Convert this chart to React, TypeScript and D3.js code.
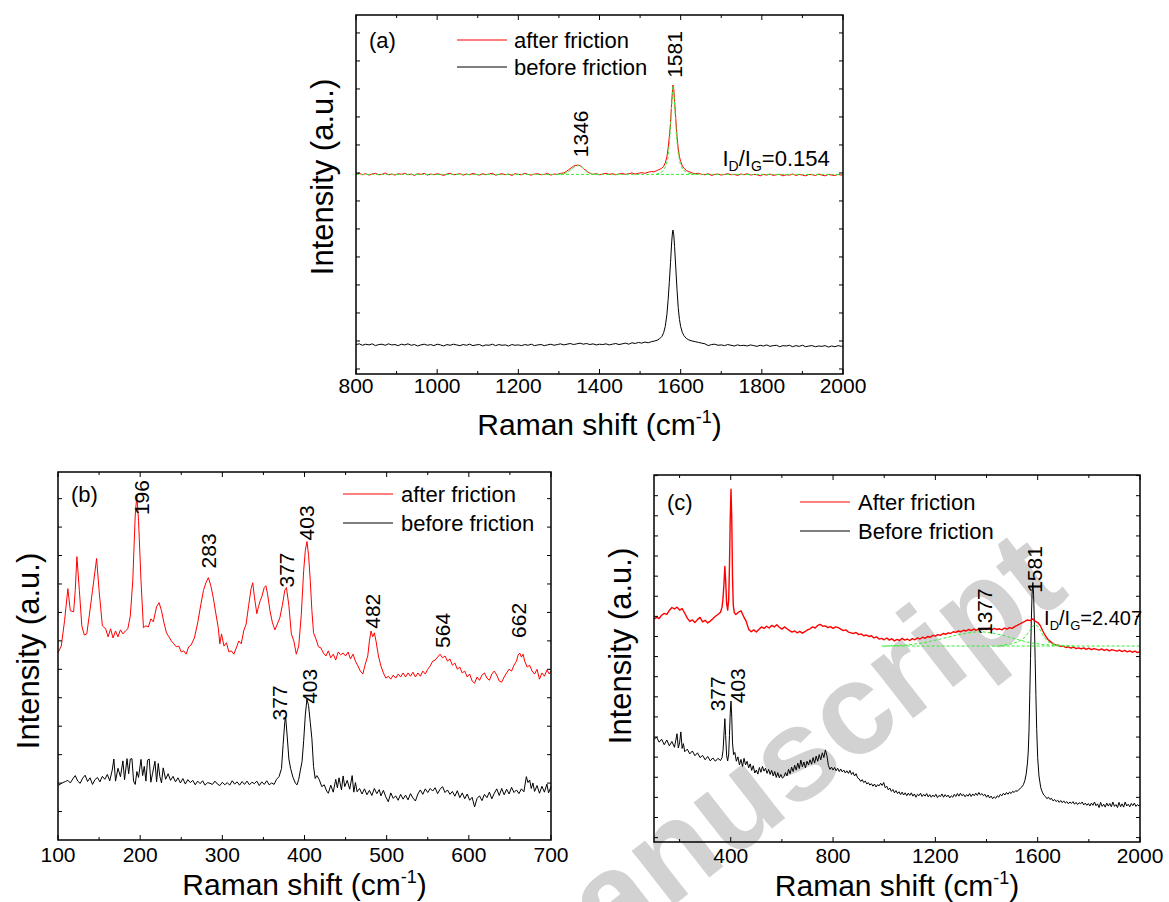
import React from "react";
import * as d3 from "d3";

const FONT = '"Liberation Sans", Arial, Helvetica, sans-serif';
const RED = "#ff0000";
const GREEN = "#33ee33";

type Pt = [number, number];

// ---------------- Panel (a) data ----------------
const aXMajor = [800, 1000, 1200, 1400, 1600, 1800, 2000];
const aXMinor = [900, 1100, 1300, 1500, 1700, 1900];
const aAfter: Pt[] = [
  [800,55.6],[808,55.9],[816,55.5],[824,55.8],[832,55.4],[840,55.7],[848,55.9],[856,55.5],[864,55.6],[872,56.0],
  [880,55.5],[888,55.7],[896,55.4],[904,55.8],[912,55.6],[920,55.9],[928,55.5],[936,55.7],[944,55.3],[952,55.8],
  [960,55.6],[968,55.9],[976,55.4],[984,55.7],[992,55.5],[1000,55.8],[1008,55.6],[1016,55.3],[1024,55.7],[1032,55.9],
  [1040,55.5],[1048,55.6],[1056,55.8],[1064,55.4],[1072,55.7],[1080,55.5],[1088,55.9],[1096,55.6],[1104,55.4],[1112,55.8],
  [1120,55.5],[1128,55.7],[1136,55.9],[1144,55.4],[1152,55.6],[1160,55.8],[1168,55.5],[1176,55.7],[1184,55.3],[1192,55.8],
  [1200,55.6],[1208,55.5],[1216,55.9],[1224,55.6],[1232,55.4],[1240,55.7],[1248,55.8],[1256,55.5],[1264,55.6],[1272,55.9],
  [1280,55.4],[1288,55.7],[1296,55.6],[1304,55.9],[1312,56.0],[1318,56.4],[1324,56.9],[1330,57.4],[1336,57.9],[1342,58.1],
  [1348,58.2],[1354,57.9],[1360,57.3],[1366,56.7],[1372,56.2],[1378,55.9],[1384,55.6],[1392,55.8],[1400,55.5],[1408,55.7],
  [1416,55.9],[1424,55.6],[1432,55.8],[1440,55.5],[1448,55.7],[1456,55.9],[1464,55.6],[1472,55.8],[1480,56.0],[1488,55.7],
  [1496,55.9],[1504,56.1],[1512,55.9],[1520,56.2],[1528,56.4],[1534,56.3],[1540,56.6],[1546,56.9],[1552,57.2],[1558,57.8],
  [1562,58.8],[1566,60.5],[1569,62.8],[1572,66.0],[1575,70.0],[1578,76.0],[1580,79.2],[1581,80.5],[1583,79.3],[1585,76.0],
  [1588,71.0],[1591,66.2],[1594,62.8],[1597,60.5],[1600,59.2],[1604,58.0],[1608,57.3],[1614,56.7],[1620,56.4],[1628,56.0],
  [1636,55.8],[1644,55.9],[1652,55.6],[1660,55.5],[1668,55.8],[1676,55.3],[1684,55.6],[1692,55.7],[1700,55.4],[1708,55.6],
  [1716,55.8],[1724,55.5],[1732,55.6],[1740,55.3],[1748,55.7],[1756,55.5],[1764,55.8],[1772,55.4],[1780,55.6],[1788,55.5],
  [1796,55.2],[1804,55.6],[1812,55.4],[1820,55.7],[1828,55.3],[1836,55.5],[1844,55.6],[1852,55.2],[1860,55.5],[1868,55.4],
  [1876,55.7],[1884,55.3],[1892,55.6],[1900,55.4],[1908,55.2],[1916,55.6],[1924,55.5],[1932,55.3],[1940,55.7],[1948,55.4],
  [1956,55.2],[1964,55.6],[1972,55.4],[1980,55.3],[1988,55.6],[1996,55.4],[2000,55.5],
];
const aBefore: Pt[] = [
  [800,8.2],[808,8.4],[816,8.0],[824,8.3],[832,8.1],[840,8.4],[848,7.9],[856,8.2],[864,8.3],[872,8.0],
  [880,8.4],[888,8.1],[896,8.2],[904,7.9],[912,8.3],[920,8.1],[928,8.4],[936,8.0],[944,8.2],[952,7.8],
  [960,8.1],[968,8.3],[976,8.0],[984,8.2],[992,7.9],[1000,8.3],[1008,8.1],[1016,7.8],[1024,8.2],[1032,8.0],
  [1040,8.3],[1048,8.1],[1056,7.9],[1064,8.2],[1072,8.0],[1080,8.3],[1088,7.9],[1096,8.1],[1104,8.2],[1112,7.8],
  [1120,8.1],[1128,8.0],[1136,8.3],[1144,7.9],[1152,8.2],[1160,8.0],[1168,8.1],[1176,7.8],[1184,8.2],[1192,8.0],
  [1200,8.1],[1208,7.9],[1216,8.2],[1224,8.0],[1232,8.3],[1240,7.9],[1248,8.1],[1256,8.2],[1264,7.9],[1272,8.1],
  [1280,8.3],[1288,8.0],[1296,8.2],[1304,8.4],[1312,8.1],[1320,8.3],[1328,8.5],[1336,8.2],[1344,8.4],[1352,8.6],
  [1360,8.3],[1368,8.5],[1376,8.2],[1384,8.4],[1392,8.1],[1400,8.3],[1408,8.2],[1416,8.4],[1424,8.1],[1432,8.3],
  [1440,8.5],[1448,8.2],[1456,8.4],[1464,8.6],[1472,8.3],[1480,8.7],[1488,8.5],[1496,8.8],[1504,8.6],[1512,8.9],
  [1520,8.7],[1528,9.0],[1536,9.2],[1542,9.4],[1548,9.8],[1554,10.5],[1558,11.5],[1562,13.2],[1566,16.5],[1569,20.5],
  [1572,25.5],[1575,31.0],[1578,37.0],[1580,39.6],[1581,40.1],[1583,38.8],[1585,35.5],[1588,29.5],[1591,23.5],[1594,18.5],
  [1597,15.2],[1600,13.2],[1604,11.6],[1608,10.7],[1614,9.9],[1620,9.5],[1628,9.2],[1636,9.0],[1644,8.8],[1652,8.6],
  [1660,8.4],[1668,7.9],[1676,8.2],[1684,8.3],[1692,8.0],[1700,8.1],[1708,7.9],[1716,8.2],[1724,8.0],[1732,7.8],
  [1740,8.1],[1748,7.9],[1756,8.0],[1764,7.8],[1772,8.1],[1780,7.9],[1788,7.7],[1796,8.0],[1804,7.8],[1812,8.1],
  [1820,7.7],[1828,7.9],[1836,8.0],[1844,7.6],[1852,7.9],[1860,7.8],[1868,8.0],[1876,7.6],[1884,7.9],[1892,7.7],
  [1900,8.0],[1908,7.6],[1916,7.8],[1924,7.9],[1932,7.6],[1940,7.8],[1948,7.7],[1956,7.9],[1964,7.5],[1972,7.8],
  [1980,7.6],[1988,7.9],[1996,7.7],[2000,7.8],
];
const aFitBase: Pt[] = [[800,55.6],[2000,55.6]];
const aFitD: Pt[] = [[1300,55.6],[1315,55.9],[1325,56.5],[1335,57.4],[1342,57.9],[1348,58.1],[1355,57.8],[1362,57.2],[1370,56.4],[1378,55.9],[1390,55.6]];
const aFitG: Pt[] = [[1540,55.6],[1555,56.4],[1563,57.8],[1568,59.8],[1572,64.0],[1575,69.0],[1578,75.0],[1581,80.3],[1584,77.0],[1587,71.5],[1590,66.0],[1594,61.5],[1599,58.5],[1606,56.8],[1620,55.9],[1640,55.6]];
const aLabels = [
  { text: "1346", x: 1352, y: 60.4 },
  { text: "1581", x: 1586, y: 82.5 },
];
const aRatio = { x: 1703, y: 57.9, value: "0.154" };

// ---------------- Panel (b) data ----------------
const bXMajor = [100, 200, 300, 400, 500, 600, 700];
const bXMinor = [150, 250, 350, 450, 550, 650];
const bAfter: Pt[] = [
  [100,50.9],[104,52.7],[108,59.6],[112,68.3],[115,62.3],[119,62.0],[121,67.8],[123,77.0],[126,67.8],[129,58.2],
  [132,55.7],[135,56.0],[138,60.9],[142,67.8],[147,76.5],[150,67.8],[154,58.2],[158,57.4],[161,55.2],[164,57.4],
  [167,54.9],[170,56.8],[173,55.2],[176,57.1],[179,56.0],[182,56.8],[185,57.4],[188,60.9],[191,70.5],[194,88.3],
  [196,93.7],[198,86.9],[201,70.5],[204,57.7],[207,58.2],[210,57.9],[213,60.1],[216,59.3],[220,63.4],[223,64.5],
  [226,62.3],[229,59.0],[232,56.3],[235,55.2],[238,54.1],[241,53.3],[244,52.5],[247,52.7],[250,51.1],[253,51.4],
  [256,50.5],[259,52.5],[262,53.0],[266,54.9],[270,59.0],[274,64.2],[277,67.8],[280,69.9],[283,71.3],[286,69.1],
  [289,65.8],[292,61.7],[295,57.7],[297,53.3],[299,56.0],[302,52.7],[305,53.6],[308,51.1],[311,51.4],[314,50.5],
  [317,52.2],[320,54.1],[323,53.3],[326,56.8],[329,58.7],[332,63.7],[335,68.3],[337,69.9],[339,66.1],[342,61.5],
  [344,63.4],[346,65.0],[348,66.1],[351,68.6],[353,69.1],[355,66.9],[358,62.3],[361,59.0],[364,57.1],[367,58.7],
  [370,60.4],[373,63.7],[376,67.8],[378,68.6],[381,63.7],[384,56.0],[387,54.1],[390,50.5],[393,52.7],[396,60.9],
  [399,73.2],[401,78.7],[403,81.1],[405,77.3],[407,70.5],[409,62.3],[411,56.3],[414,54.6],[417,52.5],[420,52.2],
  [423,50.8],[426,50.0],[429,51.4],[432,49.5],[435,50.5],[438,48.9],[441,51.1],[444,50.3],[447,50.8],[450,50.0],
  [453,51.1],[456,49.2],[459,50.5],[462,48.6],[465,47.3],[468,45.9],[471,45.1],[474,47.8],[477,50.0],[479,54.1],
  [481,56.8],[483,55.2],[485,56.3],[487,54.1],[490,50.0],[493,47.3],[496,45.4],[499,44.0],[502,44.5],[505,43.7],
  [508,44.8],[511,44.0],[514,45.1],[517,44.3],[520,45.4],[523,44.3],[526,45.4],[529,44.5],[532,45.6],[535,44.3],
  [538,45.4],[541,44.5],[544,45.9],[547,45.1],[550,46.4],[553,47.3],[556,48.6],[559,48.9],[562,49.7],[565,50.5],
  [568,49.5],[571,50.0],[574,48.6],[577,49.2],[580,47.5],[583,48.1],[586,46.4],[589,47.0],[592,45.4],[595,45.9],
  [598,44.3],[601,45.1],[604,43.2],[607,42.6],[610,44.3],[613,43.4],[616,44.8],[619,45.4],[622,44.0],[625,43.4],
  [628,45.1],[631,45.9],[634,44.8],[637,43.2],[640,42.9],[643,44.3],[646,45.4],[649,46.4],[652,45.9],[655,47.5],
  [658,48.6],[660,50.3],[662,50.8],[664,49.7],[666,50.5],[668,48.6],[671,47.0],[674,47.5],[677,45.9],[680,45.1],
  [683,46.4],[686,43.7],[689,45.4],[692,44.5],[695,46.2],[698,45.1],[700,45.9],
];
const bBefore: Pt[] = [
  [100,14.8],[103,15.2],[106,15.6],[109,15.9],[112,16.2],[115,15.5],[118,16.6],[121,17.5],[124,16.0],[127,15.4],
  [130,16.8],[133,17.6],[136,15.9],[139,16.9],[142,15.1],[145,16.4],[148,17.0],[151,15.8],[154,17.3],[157,16.5],
  [160,17.8],[163,16.1],[166,19.0],[168,22.0],[170,16.0],[173,19.5],[176,17.2],[179,21.5],[181,16.4],[184,22.1],
  [186,18.0],[188,22.0],[190,22.1],[192,16.0],[194,15.1],[196,18.6],[198,17.0],[201,21.9],[203,17.5],[205,20.0],
  [207,16.0],[209,21.7],[211,22.0],[213,15.7],[215,18.0],[218,21.4],[220,15.8],[222,20.8],[224,17.2],[226,15.5],
  [228,19.6],[231,16.5],[234,18.0],[237,16.2],[240,17.3],[243,15.8],[246,16.9],[249,15.5],[252,16.7],[255,15.2],
  [258,16.4],[261,15.6],[264,16.2],[267,15.0],[270,16.0],[273,15.3],[276,16.1],[279,14.9],[282,15.6],[285,15.4],
  [288,15.1],[291,16.0],[294,15.2],[297,14.8],[300,15.7],[303,15.0],[306,15.6],[309,14.9],[312,16.1],[315,15.2],
  [318,15.8],[321,14.9],[324,15.9],[327,15.1],[330,16.0],[333,15.0],[336,15.7],[339,15.3],[342,16.0],[345,14.8],
  [348,15.8],[351,15.1],[354,16.1],[357,15.0],[360,15.5],[363,15.1],[366,16.5],[369,17.2],[372,19.4],[374,26.0],
  [376,32.0],[377,33.6],[379,28.0],[381,22.0],[383,19.5],[386,17.0],[389,15.4],[391,15.0],[393,16.5],[395,19.0],
  [397,21.3],[399,27.0],[401,34.0],[403,38.3],[405,36.5],[407,32.0],[409,27.5],[411,20.0],[413,16.7],[415,17.5],
  [418,16.4],[421,14.5],[424,15.0],[427,13.3],[429,12.7],[432,14.9],[435,13.0],[438,16.5],[440,14.2],[442,16.9],
  [445,13.6],[447,17.4],[449,14.5],[452,16.2],[455,13.8],[458,17.5],[460,13.0],[462,15.6],[464,13.1],[467,14.0],
  [470,12.5],[473,13.9],[476,12.3],[479,13.5],[482,12.1],[485,14.0],[488,12.6],[491,13.7],[493,12.0],[496,13.5],
  [499,11.7],[502,10.4],[505,12.8],[508,11.3],[511,12.0],[514,10.8],[517,12.4],[520,11.1],[523,12.2],[526,10.9],
  [529,12.6],[532,11.4],[535,10.6],[538,12.5],[541,13.6],[544,12.4],[547,13.9],[550,12.9],[553,14.0],[556,13.3],
  [559,14.2],[562,12.6],[565,13.8],[568,14.5],[571,12.9],[574,13.6],[577,12.4],[580,13.2],[583,11.9],[586,13.4],
  [589,11.5],[592,12.8],[595,11.2],[598,12.5],[601,10.8],[604,11.6],[607,9.0],[610,11.3],[613,12.0],[616,10.7],
  [619,12.4],[622,11.5],[625,13.0],[628,11.2],[631,12.7],[634,13.9],[637,12.1],[640,14.0],[643,12.3],[646,13.8],
  [649,12.5],[652,14.3],[655,12.9],[658,13.6],[661,12.6],[664,13.9],[667,13.1],[670,17.2],[672,15.6],[674,16.3],
  [676,14.0],[678,15.5],[680,13.2],[683,14.8],[686,12.7],[689,14.6],[692,13.0],[695,15.2],[697,12.8],[700,14.5],
];
const bLabels = [
  { text: "196", x: 202, y: 88.3 },
  { text: "283", x: 283, y: 73.8 },
  { text: "377", x: 377.5, y: 68.6 },
  { text: "403", x: 403, y: 81.4 },
  { text: "482", x: 483, y: 57.4 },
  { text: "564", x: 568.5, y: 52.2 },
  { text: "662", x: 661, y: 54.9 },
  { text: "377", x: 369, y: 32.5 },
  { text: "403", x: 406, y: 37.0 },
];

// ---------------- Panel (c) data ----------------
const cXMajor = [400, 800, 1200, 1600, 2000];
const cXMinor = [200, 600, 1000, 1400, 1800];
const cAfter: Pt[] = [
  [100,60.7],[110,61.2],[120,60.9],[130,61.8],[140,62.3],[150,62.0],[160,63.1],[170,63.9],[180,63.5],[190,64.0],
  [200,63.2],[210,63.6],[220,62.4],[230,61.0],[240,60.1],[250,60.5],[260,59.8],[270,60.6],[280,61.2],[290,60.0],
  [300,60.4],[310,59.7],[320,60.2],[330,60.8],[340,61.5],[350,62.0],[360,62.6],[366,64.0],[370,66.5],[374,71.0],
  [377,75.1],[380,71.5],[384,65.0],[388,63.2],[392,66.0],[395,75.0],[398,88.0],[401,96.1],[404,88.0],[407,72.0],
  [410,64.5],[414,62.5],[420,62.0],[430,62.6],[440,63.0],[450,61.5],[460,60.2],[470,58.0],[480,57.3],[490,57.8],
  [500,57.2],[510,57.9],[520,58.6],[530,58.2],[540,58.8],[550,58.3],[560,59.0],[570,58.6],[580,59.2],[590,58.5],
  [600,58.0],[610,58.6],[620,58.1],[630,57.6],[640,57.2],[650,57.5],[660,57.0],[670,57.4],[680,56.9],[690,57.3],
  [700,57.8],[710,58.1],[720,58.6],[730,58.3],[740,59.0],[750,59.3],[760,58.8],[770,58.9],[780,58.4],[790,58.7],
  [800,58.2],[810,58.6],[820,58.4],[830,58.0],[840,57.6],[850,57.8],[860,57.2],[870,57.0],[880,56.8],[890,57.1],
  [900,56.5],[910,56.7],[920,56.2],[930,56.4],[940,56.0],[950,56.2],[960,55.6],[970,55.9],[980,55.3],[990,55.5],
  [1000,55.1],[1010,55.6],[1020,55.0],[1030,55.4],[1040,54.8],[1050,55.2],[1060,54.9],[1070,55.5],[1080,55.0],[1090,55.3],
  [1100,54.9],[1110,55.4],[1120,55.1],[1130,55.6],[1140,55.3],[1150,55.8],[1160,55.5],[1170,56.0],[1180,55.8],[1190,56.3],
  [1200,56.1],[1210,56.5],[1220,56.3],[1230,56.8],[1240,56.6],[1250,57.0],[1260,56.8],[1270,57.3],[1280,57.1],[1290,57.5],
  [1300,57.3],[1310,57.7],[1320,57.5],[1330,57.9],[1340,57.6],[1350,58.0],[1360,57.7],[1370,58.1],[1380,57.8],[1390,58.2],
  [1400,57.9],[1410,58.3],[1420,57.8],[1430,58.2],[1440,57.9],[1450,58.1],[1460,57.8],[1470,58.3],[1480,58.0],[1490,58.4],
  [1500,58.2],[1510,58.7],[1520,59.0],[1530,59.4],[1540,59.8],[1550,60.1],[1560,60.5],[1570,60.3],[1580,60.8],[1590,60.2],
  [1600,59.8],[1610,59.0],[1620,57.5],[1630,56.2],[1640,55.2],[1650,54.6],[1660,54.0],[1670,53.7],[1680,53.6],[1690,53.3],
  [1700,53.4],[1710,53.0],[1720,53.2],[1730,52.8],[1740,53.1],[1750,52.7],[1760,52.9],[1770,52.6],[1780,52.9],[1790,52.5],
  [1800,52.8],[1810,52.4],[1820,52.7],[1830,52.5],[1840,52.3],[1850,52.6],[1860,52.2],[1870,52.5],[1880,52.1],[1890,52.4],
  [1900,52.2],[1910,52.0],[1920,52.3],[1930,51.9],[1940,52.2],[1950,51.8],[1960,52.1],[1970,51.7],[1980,52.0],[1990,51.6],
  [2000,51.9],
];
const cBefore: Pt[] = [
  [100,27.9],[110,28.6],[120,27.2],[130,28.0],[140,26.5],[150,27.8],[160,26.2],[170,27.4],[180,25.8],[190,29.5],
  [195,25.6],[200,27.0],[205,30.0],[210,25.5],[215,26.8],[220,24.6],[230,25.3],[240,24.0],[250,24.8],[260,23.5],
  [270,24.3],[280,23.0],[290,23.6],[300,22.4],[310,23.3],[320,22.1],[330,22.9],[340,22.0],[350,22.8],[360,22.2],
  [366,23.0],[370,25.0],[374,30.0],[377,33.6],[380,29.0],[384,23.5],[388,22.1],[392,24.0],[395,29.0],[398,35.0],
  [401,38.4],[404,34.0],[407,27.0],[411,23.8],[416,24.4],[422,22.0],[428,23.2],[434,21.0],[440,22.5],[446,20.6],
  [452,22.8],[458,21.0],[464,22.0],[470,20.2],[476,21.3],[482,19.5],[488,20.8],[494,18.8],[500,19.6],[506,18.5],
  [512,20.3],[518,19.0],[524,20.6],[530,19.3],[536,20.1],[542,18.7],[548,19.8],[554,18.4],[560,19.5],[566,18.0],
  [572,19.2],[578,17.6],[584,18.9],[590,17.5],[596,18.4],[602,17.4],[608,17.8],[614,18.9],[620,18.0],[626,19.8],
  [632,18.6],[638,20.4],[644,19.2],[650,20.9],[656,19.6],[662,21.5],[668,20.0],[674,22.3],[680,20.5],[686,21.8],
  [692,20.2],[698,22.0],[704,21.0],[710,22.4],[716,21.2],[722,23.0],[728,21.5],[734,23.4],[740,22.0],[746,23.8],
  [752,22.4],[758,24.3],[764,23.0],[770,25.1],[776,23.5],[782,20.8],[788,19.8],[794,20.4],[800,19.6],[806,20.3],
  [812,19.4],[818,20.1],[824,19.2],[830,19.9],[836,19.1],[842,19.6],[848,18.8],[854,19.4],[860,18.7],[866,19.5],
  [872,18.4],[878,19.0],[884,18.0],[890,18.6],[896,17.5],[902,17.2],[908,16.5],[914,17.0],[920,16.2],[926,16.6],
  [932,15.8],[938,16.2],[944,15.5],[950,15.9],[956,15.2],[962,15.8],[968,15.0],[974,15.6],[980,15.3],[986,16.0],
  [992,15.4],[998,16.2],[1004,14.8],[1010,15.2],[1016,14.2],[1022,14.7],[1028,13.8],[1034,14.3],[1040,13.4],[1046,14.0],
  [1052,13.2],[1058,13.7],[1064,12.9],[1070,13.6],[1076,12.8],[1082,13.4],[1088,12.6],[1094,13.3],[1100,12.7],[1106,13.4],
  [1112,12.5],[1118,13.1],[1124,12.2],[1130,13.0],[1136,12.6],[1142,13.3],[1148,12.4],[1154,13.0],[1160,12.5],[1166,13.2],
  [1172,12.3],[1178,12.9],[1184,12.2],[1190,12.8],[1196,12.3],[1202,13.0],[1208,12.1],[1214,12.7],[1220,12.4],[1226,13.1],
  [1232,12.2],[1238,12.9],[1244,12.3],[1250,12.8],[1256,12.0],[1262,12.6],[1268,12.2],[1274,13.0],[1280,12.4],[1286,13.2],
  [1292,12.5],[1298,13.3],[1304,12.6],[1310,13.0],[1316,12.3],[1322,12.9],[1328,12.5],[1334,13.2],[1340,12.4],[1346,13.1],
  [1352,12.6],[1358,13.3],[1364,12.7],[1370,13.5],[1376,12.8],[1382,13.2],[1388,12.6],[1394,13.0],[1400,12.2],[1406,12.8],
  [1412,12.0],[1418,12.5],[1424,11.8],[1430,12.3],[1436,11.9],[1442,12.6],[1448,12.2],[1454,13.0],[1460,12.6],[1466,13.3],
  [1472,12.8],[1478,13.5],[1484,13.0],[1490,13.6],[1496,13.2],[1502,13.8],[1508,13.5],[1514,14.0],[1520,13.8],[1526,14.3],
  [1532,14.6],[1538,15.0],[1544,15.6],[1550,16.8],[1555,18.5],[1560,21.5],[1563,24.5],[1566,30.0],[1569,40.0],[1572,50.0],
  [1575,60.0],[1578,67.5],[1581,70.7],[1584,67.5],[1587,60.0],[1590,50.0],[1593,40.0],[1596,31.0],[1600,23.0],[1605,18.0],
  [1612,14.8],[1618,13.6],[1624,12.8],[1630,12.4],[1636,11.8],[1642,12.2],[1648,11.6],[1654,11.9],[1660,11.2],[1666,11.6],
  [1672,11.0],[1678,11.4],[1684,10.8],[1690,11.3],[1696,10.7],[1702,11.2],[1708,10.6],[1714,11.0],[1720,10.4],[1726,10.9],
  [1732,10.5],[1738,11.0],[1744,10.3],[1750,10.8],[1756,10.2],[1762,10.7],[1768,10.4],[1774,10.9],[1780,10.1],[1786,10.6],
  [1792,10.0],[1798,10.5],[1804,9.8],[1810,10.6],[1816,10.0],[1822,10.9],[1828,9.9],[1834,10.4],[1840,9.4],[1846,10.8],
  [1852,9.7],[1858,10.3],[1864,9.5],[1870,10.6],[1876,9.8],[1882,10.5],[1888,9.6],[1894,10.9],[1900,9.7],[1906,10.2],
  [1912,9.4],[1918,10.8],[1924,9.6],[1930,10.4],[1936,9.5],[1942,10.9],[1948,9.8],[1954,10.3],[1960,9.6],[1966,10.5],
  [1972,9.9],[1978,10.6],[1984,9.7],[1990,10.2],[1996,9.8],[2000,10.1],
];
const cFitBase: Pt[] = [[990,53.4],[2000,53.4]];
const cFitD: Pt[] = [[1000,53.4],[1080,53.6],[1150,54.2],[1220,55.3],[1290,56.5],[1350,57.2],[1380,57.3],[1420,57.0],[1470,56.2],[1520,55.2],[1570,54.3],[1620,53.8],[1680,53.5],[1750,53.4]];
const cFitG: Pt[] = [[1450,53.5],[1500,54.0],[1530,54.8],[1550,55.8],[1565,57.2],[1580,58.8],[1590,59.2],[1600,58.8],[1612,57.5],[1625,55.8],[1640,54.6],[1660,53.9],[1700,53.5]];
const cLabels = [
  { text: "1581", x: 1586, y: 67.9 },
  { text: "1377", x: 1394, y: 56.4 },
  { text: "377", x: 350, y: 35.6 },
  { text: "403", x: 425, y: 37.8 },
];
const cRatio = { x: 1625, y: 59.2, value: "2.407" };

// ---------------- Component ----------------
type SeriesDef = { data: Pt[]; color: string; dash?: string; width?: number };
type LabelDef = { text: string; x: number; y: number };
type PanelProps = {
  left: number; right: number; top: number; bottom: number;
  xDomain: [number, number];
  xMajor: number[]; xMinor: number[];
  yStart: number; yStep: number;
  series: SeriesDef[];
  labels: LabelDef[];
  ratio?: { x: number; y: number; value: string };
  ratioSize?: number;
  tag: string;
  legend: { names: string[]; colors: string[]; x1: number; x2: number; tx: number; ys: number[] };
  tickBaseline: number; titleBaseline: number;
  yTitle: { x: number; y: number };
};

function Panel(p: PanelProps) {
  const xs = d3.scaleLinear().domain(p.xDomain).range([p.left, p.right]);
  const ys = d3.scaleLinear().domain([0, 100]).range([p.bottom, p.top]);
  const line = d3.line<Pt>().x((d) => xs(d[0])).y((d) => ys(d[1]));
  const yTicks: number[] = [];
  for (let v = p.yStart; v < 100; v += p.yStep) if (v > 0.5) yTicks.push(v);
  const major = 5, minor = 3;
  const cx = (p.left + p.right) / 2;
  const rs = p.ratioSize ?? 22;
  const ss = Math.round(rs * 0.64);
  return (
    <g fontFamily={FONT}>
      {p.series.map((s, i) => (
        <path key={i} d={line(s.data) || ""} fill="none" stroke={s.color}
          strokeWidth={s.width ?? 1} strokeDasharray={s.dash} strokeLinejoin="round" />
      ))}
      <rect x={p.left} y={p.top} width={p.right - p.left} height={p.bottom - p.top}
        fill="none" stroke="#000" strokeWidth={1.5} />
      {p.xMajor.concat(p.xMinor).map((v, i) => {
        const L = i < p.xMajor.length ? major : minor;
        const x = xs(v);
        return (
          <g key={"xt" + i}>
            <line x1={x} x2={x} y1={p.bottom} y2={p.bottom - L} stroke="#000" strokeWidth={1} />
            <line x1={x} x2={x} y1={p.top} y2={p.top + L} stroke="#000" strokeWidth={1} />
          </g>
        );
      })}
      {yTicks.map((v, i) => {
        const y = ys(v);
        return (
          <g key={"yt" + i}>
            <line x1={p.left} x2={p.left + 4} y1={y} y2={y} stroke="#000" strokeWidth={1} />
            <line x1={p.right} x2={p.right - 4} y1={y} y2={y} stroke="#000" strokeWidth={1} />
          </g>
        );
      })}
      {p.xMajor.map((v) => (
        <text key={"xl" + v} x={xs(v)} y={p.tickBaseline} fontSize={21} textAnchor="middle">{v}</text>
      ))}
      <text x={cx} y={p.titleBaseline} fontSize={30} textAnchor="middle">
        <tspan>Raman shift (cm</tspan>
        <tspan dy={-12} fontSize={18}>-1</tspan>
        <tspan dy={12}>)</tspan>
      </text>
      <text transform={`translate(${p.yTitle.x},${p.yTitle.y}) rotate(-90)`} fontSize={31}
        textAnchor="middle" dominantBaseline="central">Intensity (a.u.)</text>
      <text x={p.left + 13} y={p.legend.ys[0]} fontSize={22} dominantBaseline="central">{p.tag}</text>
      {p.legend.names.map((n, i) => (
        <g key={"lg" + i}>
          <line x1={p.legend.x1} x2={p.legend.x2} y1={p.legend.ys[i]} y2={p.legend.ys[i]}
            stroke={p.legend.colors[i]} strokeWidth={1.2} />
          <text x={p.legend.tx} y={p.legend.ys[i]} fontSize={22} dominantBaseline="central">{n}</text>
        </g>
      ))}
      {p.labels.map((l, i) => (
        <text key={"pl" + i} transform={`translate(${xs(l.x)},${ys(l.y)}) rotate(-90)`}
          fontSize={21} dominantBaseline="central">{l.text}</text>
      ))}
      {p.ratio && (
        <text x={xs(p.ratio.x)} y={ys(p.ratio.y)} fontSize={rs}>
          I<tspan fontSize={ss} dy={5}>D</tspan><tspan fontSize={rs} dy={-5}>/I</tspan>
          <tspan fontSize={ss} dy={5}>G</tspan><tspan fontSize={rs} dy={-5}>={p.ratio.value}</tspan>
        </text>
      )}
    </g>
  );
}

export default function App() {
  return (
    <svg width={1169} height={902} style={{ position: "absolute", left: 0, top: 0, background: "#fff" }}
      xmlns="http://www.w3.org/2000/svg">
      <rect x={0} y={0} width={1169} height={902} fill="#fff" />
      <text transform="translate(610,955) rotate(-38)" fontFamily={FONT} fontWeight="bold"
        fontSize={130} fill="#d2d2d2">anuscript</text>
      <Panel
        left={356} right={843} top={15} bottom={374}
        xDomain={[800, 2000]} xMajor={aXMajor} xMinor={aXMinor}
        yStart={1.4} yStep={7.8}
        series={[
          { data: aBefore, color: "#000" },
          { data: aAfter, color: RED },
          { data: aFitBase, color: GREEN, dash: "3,2" },
          { data: aFitD, color: GREEN, dash: "3,2" },
          { data: aFitG, color: GREEN, dash: "3,2" },
        ]}
        labels={aLabels} ratio={aRatio} tag="(a)"
        legend={{ names: ["after friction", "before friction"], colors: [RED, "#000"], x1: 457, x2: 507, tx: 514, ys: [40, 67] }}
        tickBaseline={393} titleBaseline={435} yTitle={{ x: 322, y: 177 }}
      />
      <Panel
        left={58} right={551} top={472} bottom={840}
        xDomain={[100, 700]} xMajor={bXMajor} xMinor={bXMinor}
        yStart={0} yStep={7.73}
        series={[
          { data: bBefore, color: "#000" },
          { data: bAfter, color: RED },
        ]}
        labels={bLabels} tag="(b)"
        legend={{ names: ["after friction", "before friction"], colors: [RED, "#000"], x1: 343, x2: 393, tx: 401, ys: [494, 523] }}
        tickBaseline={862} titleBaseline={895} yTitle={{ x: 28, y: 651 }}
      />
      <Panel
        left={654} right={1140} top={475} bottom={842}
        xDomain={[100, 2000]} xMajor={cXMajor} xMinor={cXMinor}
        yStart={1.2} yStep={5.48}
        series={[
          { data: cBefore, color: "#000" },
          { data: cAfter, color: RED, width: 1.4 },
          { data: cFitBase, color: GREEN, dash: "3,2" },
          { data: cFitD, color: GREEN, dash: "3,2" },
          { data: cFitG, color: GREEN, dash: "3,2" },
        ]}
        labels={cLabels} ratio={cRatio} ratioSize={20} tag="(c)"
        legend={{ names: ["After friction", "Before friction"], colors: [RED, "#000"], x1: 800, x2: 850, tx: 858, ys: [502, 531] }}
        tickBaseline={863} titleBaseline={896} yTitle={{ x: 620, y: 646 }}
      />
    </svg>
  );
}
